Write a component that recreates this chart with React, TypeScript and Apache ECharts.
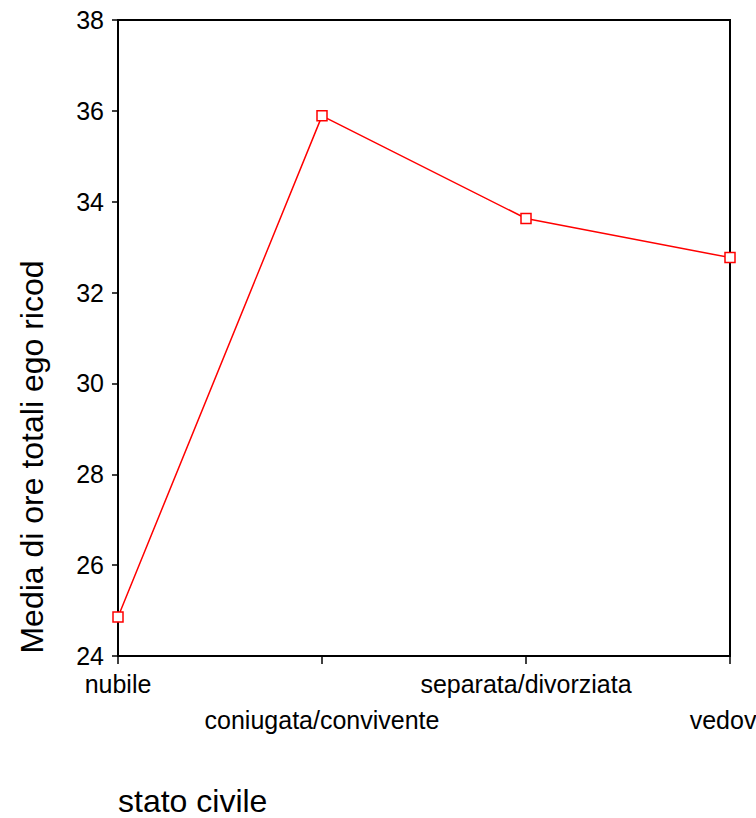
import React, { useEffect, useRef } from "react";
import * as echarts from "echarts";

const categories = ["nubile", "coniugata/convivente", "separata/divorziata", "vedova"];
const values = [24.86, 35.89, 33.63, 32.77];
const yTicks = { min: 24, max: 38, interval: 2 };
const yAxisTitle = "Media di ore totali ego ricod";
const xAxisTitle = "stato civile";

const FONT = "'Liberation Sans', Arial, sans-serif";

export default function App() {
  const ref = useRef<HTMLDivElement>(null);
  useEffect(() => {
    if (!ref.current) return;
    const chart = echarts.init(ref.current, null, { renderer: "svg" });
    chart.setOption({
      animation: false,
      backgroundColor: "#ffffff",
      textStyle: { fontFamily: FONT },
      grid: {
        left: 118,
        top: 20,
        right: 26,
        bottom: 162,
        outerBoundsMode: "none",
        containLabel: false,
        show: true,
        borderColor: "#000",
        borderWidth: 2,
        backgroundColor: "transparent",
      },
      xAxis: {
        type: "category",
        data: categories,
        boundaryGap: false,
        axisLine: { lineStyle: { color: "#000", width: 2 } },
        axisTick: { show: true, length: 8, lineStyle: { color: "#000", width: 1.5 }, alignWithLabel: true },
        axisLabel: {
          interval: 0,
          color: "#000",
          fontSize: 25,
          fontFamily: FONT,
          margin: 10,
          lineHeight: 36,
          hideOverlap: false,
          formatter: (v: string, i: number) => (i % 2 === 1 ? "\n" + v : v),
        },
        splitLine: { show: false },
      },
      yAxis: {
        type: "value",
        min: yTicks.min,
        max: yTicks.max,
        interval: yTicks.interval,
        axisLine: { show: true, lineStyle: { color: "#000", width: 2 } },
        axisTick: { show: true, length: 6, lineStyle: { color: "#000", width: 1.5 } },
        axisLabel: { color: "#000", fontSize: 25, fontFamily: FONT, margin: 14 },
        splitLine: { show: false },
      },
      graphic: [
        {
          type: "text",
          x: 32,
          y: 457,
          rotation: Math.PI / 2,
          style: {
            text: yAxisTitle,
            fill: "#000",
            font: `32px ${FONT}`,
            textAlign: "center",
            textVerticalAlign: "middle",
          },
        },
        {
          type: "text",
          x: 118,
          y: 801,
          style: {
            text: xAxisTitle,
            fill: "#000",
            font: `32px ${FONT}`,
            textAlign: "left",
            textVerticalAlign: "middle",
          },
        },
      ],
      series: [
        {
          type: "line",
          data: values,
          symbol: "rect",
          symbolSize: 10,
          showSymbol: true,
          lineStyle: { color: "#ff0000", width: 1.5 },
          itemStyle: { color: "#ffffff", borderColor: "#ff0000", borderWidth: 1.5 },
          z: 5,
        },
      ],
    });
    return () => chart.dispose();
  }, []);
  return (
    <div
      ref={ref}
      style={{ position: "fixed", left: 0, top: 0, width: 756, height: 818 }}
    />
  );
}
